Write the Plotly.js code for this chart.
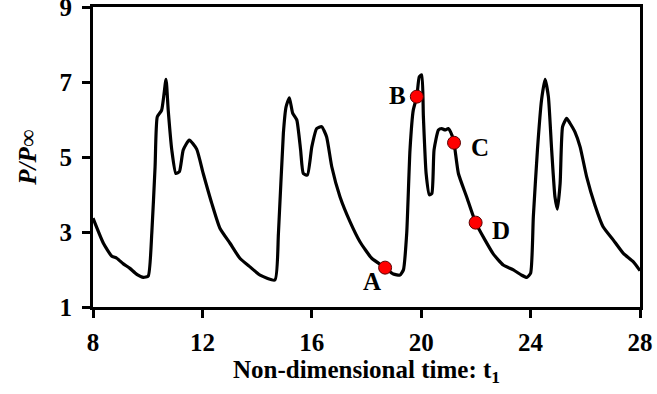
<!DOCTYPE html>
<html>
<head>
<meta charset="utf-8">
<script src="https://cdn.plot.ly/plotly-3.0.1.min.js"></script>
<style>html,body{margin:0;padding:0;background:#fff;}#chart{width:657px;height:394px;}</style>
</head>
<body>
<div id="chart"></div>
<script>
var tData = [8.0,8.38,8.68,8.87,9.11,9.35,9.60,9.84,10.02,10.15,10.27,10.35,10.51,10.67,10.75,10.88,11.03,11.16,11.30,11.52,11.79,12.03,12.34,12.64,13.01,13.37,13.74,14.11,14.65,14.78,14.96,15.06,15.18,15.30,15.45,15.59,15.69,15.84,16.00,16.18,16.36,16.54,16.73,17.03,17.40,17.76,18.19,18.68,18.98,19.22,19.35,19.47,19.59,19.71,19.84,19.93,20.02,20.08,20.18,20.30,20.39,20.47,20.63,20.75,20.87,20.99,21.12,21.20,21.36,21.66,21.99,22.33,22.64,23.0,23.37,23.67,23.86,24.0,24.10,24.25,24.40,24.53,24.65,24.77,24.89,24.98,25.08,25.17,25.32,25.44,25.62,25.81,26.05,26.35,26.65,27.02,27.39,27.75,28.0];
var pData = [3.37,2.70,2.36,2.30,2.15,2.03,1.87,1.79,1.83,2.97,4.74,6.07,6.25,7.07,6.25,5.19,4.56,4.61,5.19,5.45,5.21,4.56,3.77,3.10,2.70,2.30,2.07,1.85,1.72,2.96,5.63,6.34,6.58,6.17,5.99,5.19,4.56,4.52,5.27,5.76,5.81,5.54,4.74,3.94,3.27,2.74,2.30,2.05,1.88,1.85,1.99,2.96,5.19,6.25,6.61,7.14,7.19,6.07,4.56,3.99,4.03,5.19,5.72,5.76,5.72,5.76,5.59,5.38,4.56,3.94,3.25,2.79,2.41,2.12,1.99,1.85,1.79,1.90,3.41,5.19,6.52,7.07,6.61,5.19,3.94,3.61,4.30,5.81,6.03,5.90,5.67,5.27,4.47,3.72,3.14,2.79,2.43,2.21,1.97];
var ptLabels = ['A','B','C','D'];
var ptT = [18.68,19.84,21.20,21.99];
var ptP = [2.05,6.61,5.38,3.25];
var xTicks = [8,12,16,20,24,28];
var yTicks = [1,3,5,7,9];

var fam = '"Liberation Serif", "Times New Roman", serif';
var tickFont = {family:fam, size:25, color:'#000'};
var xTitleFont = {family:fam, size:25, color:'#000'};
var yTitleFont = {family:fam, size:25, color:'#000'};
var labFont = {family:fam, size:25, color:'#000'};
var shifts = [[-13,-14],[-19,1],[26,-5],[25,-8]];
var annotations = ptLabels.map(function(l,i){
  return {x:ptT[i], y:ptP[i], xref:'x', yref:'y', text:'<b>'+l+'</b>', showarrow:false,
    xshift:shifts[i][0], yshift:shifts[i][1], font:labFont};
});

var traces = [
  {x:tData, y:pData, mode:'lines', line:{color:'#000', width:3.2, shape:'spline', smoothing:0.5}, hoverinfo:'skip'},
  {x:ptT, y:ptP, mode:'markers', marker:{color:'#ff0000', size:13, line:{color:'#5a0000', width:1}}}
];
var layout = {
  width:657, height:394,
  margin:{l:93, r:17, t:7, b:87},
  showlegend:false,
  paper_bgcolor:'#fff', plot_bgcolor:'#fff',
  font:tickFont,
  xaxis:{range:[8,28], tickvals:xTicks, ticktext:xTicks.map(function(v){return '<b>'+v+'</b>';}),
    showgrid:false, zeroline:false, showline:true, linecolor:'#000', linewidth:3, mirror:true,
    ticks:'outside', ticklen:8, tickwidth:3, tickcolor:'#000', tickfont:tickFont, ticklabeloverflow:'allow',
    ticklabelstandoff:3,
    title:{text:'<b>Non-dimensional time: t<sub>1</sub></b>', font:xTitleFont, standoff:2}},
  yaxis:{range:[1,9], tickvals:yTicks, ticktext:yTicks.map(function(v){return '<b>'+v+'</b>';}),
    showgrid:false, zeroline:false, showline:true, linecolor:'#000', linewidth:3, mirror:true,
    ticks:'outside', ticklen:8, tickwidth:3, tickcolor:'#000', tickfont:tickFont, ticklabeloverflow:'allow',
    ticklabelstandoff:5,
    title:{text:'<b><i>P/P∞</i></b>', font:yTitleFont, standoff:16}},
  annotations:annotations
};
Plotly.newPlot('chart', traces, layout, {staticPlot:true});
</script>
</body>
</html>
